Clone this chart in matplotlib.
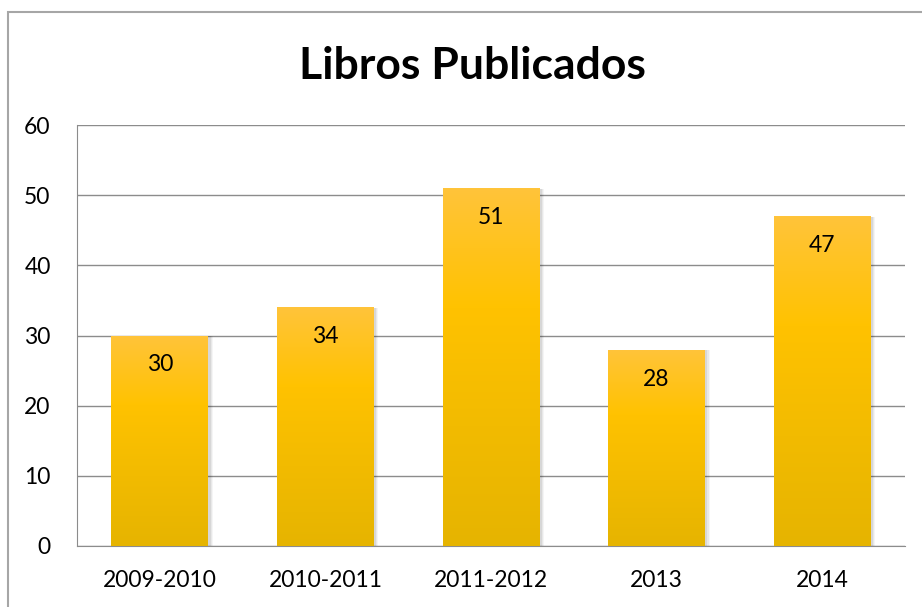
import matplotlib
matplotlib.use('Agg')
import matplotlib.pyplot as plt
import numpy as np
from matplotlib.colors import LinearSegmentedColormap
from matplotlib.patches import Rectangle

categories = ['2009-2010', '2010-2011', '2011-2012', '2013', '2014']
libros = [30, 34, 51, 28, 47]
yticks = [0, 10, 20, 30, 40, 50, 60]

plt.rcParams['font.family'] = ['Lato', 'DejaVu Sans']

fig = plt.figure(figsize=(9.22, 6.07), dpi=100)
ax = fig.add_axes([77 / 922, 61 / 607, 828 / 922, 421 / 607])

# outer chart border (Excel style)
fig.add_artist(Rectangle((8 / 922, -0.05), 1.1, (607 - 12) / 607 + 0.05,
                         transform=fig.transFigure, fill=False,
                         edgecolor='#a6a6a6', linewidth=1.5))

grad = LinearSegmentedColormap.from_list(
    'gold', ['#e6b400', '#f2bb00', '#ffc200', '#ffc43a'])
bar_w = 0.585
x = np.arange(len(categories))

for xi, v in zip(x, libros):
    # soft shadow
    for k, a in enumerate([0.04, 0.05, 0.07]):
        off = 0.024 - k * 0.007
        sh = Rectangle((xi - bar_w / 2 + 0.004, -0.4 + k * 0.1), bar_w + off,
                       v + 0.4 - k * 0.1 - 0.1,
                       facecolor='black', alpha=a, edgecolor='none', zorder=2)
        ax.add_patch(sh)
    bar = ax.bar(xi, v, width=bar_w, color='none', zorder=3)[0]
    img = ax.imshow(np.linspace(0, 1, 256).reshape(-1, 1), cmap=grad,
                    origin='lower', aspect='auto',
                    extent=[xi - bar_w / 2, xi + bar_w / 2, 0, v], zorder=3)
    img.set_clip_path(bar)
    ax.text(xi, v - 4.2, str(v), ha='center', va='center', fontsize=16.5,
            color='black', zorder=5)

ax.set_xlim(-0.5, len(categories) - 0.5)
ax.set_ylim(0, 60)
ax.set_yticks(yticks)
ax.set_xticks(x)
ax.set_xticklabels(categories)
ax.tick_params(axis='both', length=0, labelsize=16.5, colors='black')
ax.tick_params(axis='y', pad=19)
ax.tick_params(axis='x', pad=17)

ax.grid(axis='y', color='#8c8c8c', linewidth=1)
ax.set_axisbelow(True)
for s in ['top', 'right']:
    ax.spines[s].set_visible(False)
ax.spines['left'].set_color('#8c8c8c')
ax.spines['bottom'].set_color('#8c8c8c')

fig.text(472 / 922, 1 - 66 / 607, 'Libros Publicados', ha='center', va='center',
         fontsize=32, fontweight='bold')

plt.savefig('out.png', dpi=100)
